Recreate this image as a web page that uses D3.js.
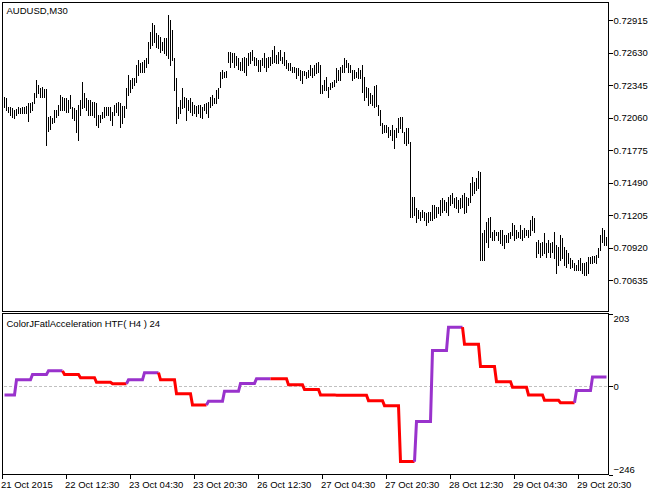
<!DOCTYPE html>
<html>
<head>
<meta charset="utf-8">
<script src="https://cdn.jsdelivr.net/npm/d3@7"></script>
<style>
  body { margin: 0; background: #fff; }
  svg { display: block; font-family: "Liberation Sans", Arial, sans-serif; font-size: 9.5px; }
</style>
</head>
<body>
<svg></svg>
<script>
// AUDUSD M30, one value per bar
const symbolTitle = 'AUDUSD,M30'
const indicatorTitle = 'ColorJFatlAcceleration HTF( H4 ) 24'

const highs = [
  0.72237,0.72233,0.72154,0.72149,0.72140,0.72125,0.72131,0.72149,0.72140,0.72149,
  0.72149,0.72160,0.72190,0.72190,0.72198,0.72272,0.72388,0.72345,0.72315,0.72324,
  0.72307,0.72307,0.72067,0.72073,0.72052,0.72125,0.72125,0.72169,0.72257,0.72242,
  0.72228,0.72228,0.72213,0.72257,0.72154,0.72140,0.72125,0.72169,0.72213,0.72374,
  0.72272,0.72228,0.72213,0.72213,0.72198,0.72198,0.72184,0.72081,0.72081,0.72110,
  0.72154,0.72149,0.72154,0.72154,0.72110,0.72169,0.72184,0.72198,0.72184,0.72160,
  0.72160,0.72315,0.72432,0.72388,0.72403,0.72403,0.72520,0.72564,0.72535,0.72549,
  0.72564,0.72579,0.72724,0.72812,0.72886,0.72871,0.72798,0.72783,0.72768,0.72724,
  0.72754,0.72754,0.72958,0.72915,0.72827,0.72579,0.72403,0.72154,0.72213,0.72315,
  0.72242,0.72228,0.72213,0.72228,0.72198,0.72169,0.72160,0.72169,0.72169,0.72154,
  0.72178,0.72184,0.72198,0.72242,0.72257,0.72228,0.72301,0.72315,0.72461,0.72476,
  0.72461,0.72470,0.72637,0.72637,0.72628,0.72623,0.72599,0.72579,0.72549,0.72579,
  0.72593,0.72579,0.72623,0.72637,0.72651,0.72593,0.72579,0.72564,0.72564,0.72579,
  0.72623,0.72579,0.72593,0.72593,0.72651,0.72687,0.72608,0.72637,0.72651,0.72593,
  0.72637,0.72564,0.72535,0.72535,0.72505,0.72505,0.72491,0.72491,0.72476,0.72470,
  0.72470,0.72461,0.72476,0.72520,0.72491,0.72520,0.72535,0.72549,0.72520,0.72345,
  0.72388,0.72417,0.72330,0.72359,0.72374,0.72388,0.72491,0.72476,0.72505,0.72520,
  0.72579,0.72564,0.72535,0.72520,0.72476,0.72476,0.72461,0.72491,0.72476,0.72520,
  0.72417,0.72324,0.72315,0.72272,0.72257,0.72336,0.72345,0.72169,0.72125,0.72008,
  0.71994,0.71994,0.71979,0.71950,0.71994,0.71950,0.71965,0.72052,0.72067,0.72067,
  0.71935,0.71965,0.71965,0.71847,0.71360,0.71365,0.71263,0.71248,0.71233,0.71248,
  0.71233,0.71219,0.71233,0.71233,0.71292,0.71292,0.71277,0.71277,0.71336,0.71351,
  0.71336,0.71321,0.71365,0.71380,0.71395,0.71351,0.71365,0.71336,0.71351,0.71380,
  0.71395,0.71365,0.71351,0.71482,0.71541,0.71497,0.71526,0.71593,0.71585,0.71044,
  0.71073,0.71146,0.71175,0.71190,0.71058,0.71073,0.71058,0.71058,0.71073,0.71073,
  0.71029,0.71029,0.71044,0.71058,0.71132,0.71117,0.71073,0.71058,0.71117,0.71073,
  0.71088,0.71073,0.71073,0.71161,0.71196,0.71175,0.70970,0.70985,0.70956,0.70970,
  0.71044,0.70956,0.70985,0.70956,0.70970,0.71058,0.70941,0.70926,0.71029,0.71000,
  0.70926,0.70898,0.70869,0.70825,0.70810,0.70781,0.70766,0.70810,0.70825,0.70781,
  0.70781,0.70795,0.70839,0.70839,0.70845,0.70845,0.70854,0.70912,0.71029,0.71088,
  0.71073,0.71014
]

const lows = [
  0.72149,0.72125,0.72110,0.72081,0.72067,0.72052,0.72081,0.72096,0.72102,0.72102,
  0.72096,0.72102,0.72032,0.72110,0.72125,0.72184,0.72242,0.72272,0.72242,0.72242,
  0.72242,0.71818,0.71944,0.71956,0.72008,0.72023,0.72067,0.72081,0.72125,0.72125,
  0.72125,0.72110,0.72110,0.72140,0.72052,0.72038,0.71935,0.71862,0.72081,0.72140,
  0.72154,0.72125,0.72081,0.72081,0.72081,0.72067,0.71994,0.71979,0.72023,0.72052,
  0.72067,0.72081,0.72081,0.72038,0.71994,0.72081,0.72110,0.72081,0.71979,0.72008,
  0.72067,0.72140,0.72257,0.72286,0.72315,0.72345,0.72374,0.72432,0.72461,0.72461,
  0.72461,0.72505,0.72535,0.72666,0.72695,0.72724,0.72680,0.72666,0.72637,0.72651,
  0.72623,0.72608,0.72579,0.72520,0.72564,0.72301,0.72008,0.72052,0.72096,0.72140,
  0.72154,0.72038,0.72125,0.72110,0.72081,0.72096,0.72073,0.72102,0.72061,0.72052,
  0.72125,0.72096,0.72067,0.72154,0.72169,0.72184,0.72184,0.72228,0.72330,0.72403,
  0.72417,0.72417,0.72549,0.72505,0.72549,0.72505,0.72520,0.72482,0.72476,0.72476,
  0.72461,0.72432,0.72520,0.72535,0.72564,0.72520,0.72520,0.72470,0.72470,0.72520,
  0.72505,0.72470,0.72505,0.72520,0.72535,0.72549,0.72535,0.72535,0.72564,0.72535,
  0.72520,0.72491,0.72476,0.72476,0.72461,0.72461,0.72403,0.72432,0.72388,0.72359,
  0.72432,0.72403,0.72417,0.72432,0.72417,0.72432,0.72447,0.72461,0.72272,0.72272,
  0.72301,0.72301,0.72242,0.72307,0.72324,0.72336,0.72374,0.72388,0.72388,0.72461,
  0.72461,0.72505,0.72461,0.72461,0.72388,0.72403,0.72417,0.72403,0.72403,0.72286,
  0.72213,0.72242,0.72169,0.72184,0.72169,0.72154,0.72160,0.72081,0.71994,0.71921,
  0.71935,0.71935,0.71891,0.71906,0.71862,0.71789,0.71891,0.71935,0.71965,0.71935,
  0.71833,0.71818,0.71833,0.71190,0.71184,0.71204,0.71146,0.71175,0.71161,0.71190,
  0.71161,0.71117,0.71146,0.71161,0.71161,0.71175,0.71190,0.71219,0.71204,0.71233,
  0.71248,0.71233,0.71204,0.71292,0.71307,0.71277,0.71263,0.71233,0.71263,0.71277,
  0.71219,0.71233,0.71292,0.71321,0.71380,0.71395,0.71424,0.71439,0.70810,0.70810,
  0.70810,0.70970,0.70926,0.71014,0.70985,0.70985,0.71029,0.70985,0.70956,0.70941,
  0.70912,0.70970,0.70970,0.71000,0.71029,0.70985,0.71000,0.71014,0.71000,0.70985,
  0.71014,0.71029,0.71014,0.71029,0.71073,0.71058,0.70839,0.70869,0.70839,0.70854,
  0.70869,0.70839,0.70883,0.70839,0.70883,0.70825,0.70693,0.70766,0.70810,0.70825,
  0.70766,0.70751,0.70781,0.70737,0.70751,0.70722,0.70722,0.70722,0.70722,0.70693,
  0.70678,0.70678,0.70693,0.70781,0.70781,0.70795,0.70781,0.70839,0.70898,0.70970,
  0.70941,0.70941
]

const priceTicks = [0.72915, 0.72630, 0.72345, 0.72060, 0.71775, 0.71490, 0.71205, 0.70920, 0.70635]

const timeLabels = ['21 Oct 2015', '22 Oct 12:30', '23 Oct 04:30', '23 Oct 20:30', '26 Oct 12:30',
  '27 Oct 04:30', '27 Oct 20:30', '28 Oct 12:30', '29 Oct 04:30', '29 Oct 20:30']
const timeLabelBars = [-1, 31, 63, 95, 127, 159, 191, 223, 255, 287]

// indicator: one value per H4 block (8 M30 bars), first block is partial
const accel = [
  -24, 18, 33, 43, 33, 24, 11, 7, 18, 38,
  18, -21, -52, -42, -14, 8, 21, 21, 4, -9,
  -24, -25, -25, -40, -54, -210, -98, 100, 165, 117,
  55, 13, -3, -24, -39, -46, -12, 26
]
const accelDir = [
  'up','up','up','up','dn','dn','dn','dn','up','up',
  'dn','dn','dn','up','up','up','up','dn','dn','dn',
  'dn','dn','dn','dn','dn','dn','up','up','up','dn',
  'dn','dn','dn','dn','dn','dn','up','up'
]
const accelTicks = [203, 0, -246]

function render() {
  const width = 660
  const height = 494

  const svg = d3.select('svg').attr('width', width).attr('height', height)

  const left = 2.5
  const right = 608.5
  const priceTop = 2.5
  const priceBottom = 311.5
  const indTop = 313.5
  const indBottom = 474.5

  const n = highs.length

  const xScale = d3.scaleLinear()
    .domain([0, n - 1])
    .range([4.5, 4.5 + 2 * (n - 1)])

  const yPrice = d3.scaleLinear()
    .domain([priceTicks[priceTicks.length - 1], priceTicks[0]])
    .range([280, 20])

  const yInd = d3.scaleLinear()
    .domain([accelTicks[2], accelTicks[0]])
    .range([indBottom, indTop])

  // price bars
  svg.append('g')
    .attr('shape-rendering', 'crispEdges')
    .selectAll('line')
    .data(highs)
    .enter().append('line')
      .attr('x1', (d, i) => xScale(i))
      .attr('x2', (d, i) => xScale(i))
      .attr('y1', d => yPrice(d))
      .attr('y2', (d, i) => yPrice(lows[i]) + 1)
      .attr('stroke', '#000')

  // zero level
  svg.append('line')
    .attr('x1', left + 1).attr('x2', right - 1)
    .attr('y1', Math.round(yInd(0)) + 0.5).attr('y2', Math.round(yInd(0)) + 0.5)
    .attr('stroke', '#c0c0c0')
    .attr('stroke-dasharray', '3,2')
    .attr('shape-rendering', 'crispEdges')

  // indicator, expanded to bars and split into colour runs
  const perBar = highs.map((d, i) => Math.floor((i + 2) / 8))
  const runs = []
  perBar.forEach((b, i) => {
    const dir = accelDir[b]
    const last = runs[runs.length - 1]
    if (!last || last.dir !== dir) {
      const pts = i > 0 ? [i - 1, i] : [i]
      runs.push({ dir: dir, pts: pts })
    } else {
      last.pts.push(i)
    }
  })

  const line = d3.line()
    .x(i => xScale(i))
    .y(i => yInd(accel[perBar[i]]))

  svg.append('g')
    .selectAll('path')
    .data(runs)
    .enter().append('path')
      .attr('d', d => line(d.pts))
      .attr('fill', 'none')
      .attr('stroke', d => d.dir === 'up' ? '#9932cc' : '#ff0000')
      .attr('stroke-width', 3)
      .attr('stroke-linejoin', 'miter')

  // frames
  const frame = svg.append('g')
    .attr('fill', 'none')
    .attr('stroke', '#000')
    .attr('shape-rendering', 'crispEdges')
  frame.append('rect')
    .attr('x', left).attr('y', priceTop)
    .attr('width', right - left).attr('height', priceBottom - priceTop)
  frame.append('rect')
    .attr('x', left).attr('y', indTop)
    .attr('width', right - left).attr('height', indBottom - indTop)

  // right price axis
  const priceAxis = d3.axisRight(yPrice)
    .tickValues(priceTicks)
    .tickFormat(d3.format('.5f'))
    .tickSize(4)
    .tickPadding(1)

  const priceAxisG = svg.append('g')
    .attr('transform', `translate(${right},0)`)
    .call(priceAxis)
  priceAxisG.select('.domain').remove()

  // right indicator axis
  const indAxis = d3.axisRight(yInd)
    .tickValues(accelTicks)
    .tickSize(4)
    .tickPadding(1)

  const indAxisG = svg.append('g')
    .attr('transform', `translate(${right},0)`)
    .call(indAxis)
  indAxisG.select('.domain').remove()
  indAxisG.selectAll('text')
    .attr('y', d => d === accelTicks[0] ? 5 : d === accelTicks[2] ? -5 : 0)

  // time axis
  const xAxis = d3.axisBottom(xScale)
    .tickValues(timeLabelBars)
    .tickFormat((d, i) => timeLabels[i])
    .tickSize(4)
    .offset(0)

  const xAxisG = svg.append('g')
    .attr('transform', `translate(0,${indBottom})`)
    .call(xAxis)
  xAxisG.select('.domain').remove()
  xAxisG.selectAll('text')
    .attr('text-anchor', 'start')
    .attr('x', -1.5)

  svg.selectAll('.tick line').attr('shape-rendering', 'crispEdges')
  svg.selectAll('.tick text')
    .attr('font-family', '"Liberation Sans", Arial, sans-serif')
    .attr('font-size', '9.5px')
    .attr('fill', '#000')

  // titles
  svg.append('text')
    .attr('x', 6.5).attr('y', 13.5)
    .text(symbolTitle)
  svg.append('text')
    .attr('x', 6.5).attr('y', 326.5)
    .text(indicatorTitle)
}

render()
</script>
</body>
</html>
